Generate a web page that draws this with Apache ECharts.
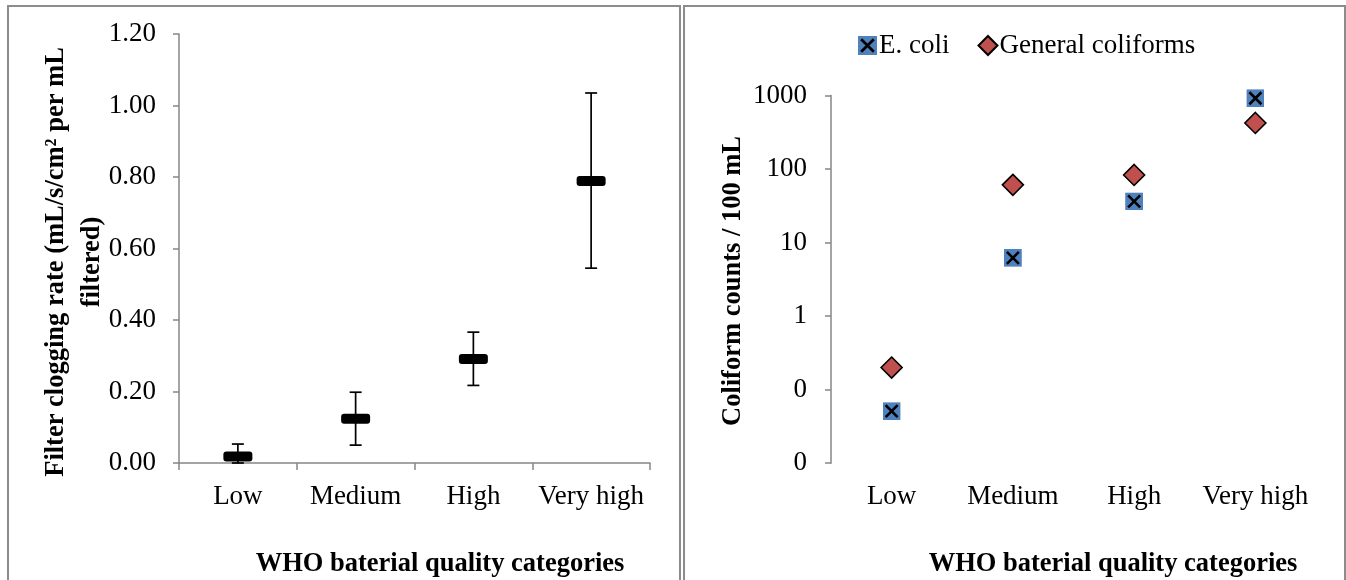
<!DOCTYPE html>
<html>
<head>
<meta charset="utf-8">
<script src="https://cdn.jsdelivr.net/npm/echarts@6/dist/echarts.min.js"></script>
<style>
  html, body { margin: 0; padding: 0; background: #fff; }
  #wrap { position: relative; width: 1346px; height: 580px; overflow: hidden; }
  #chart { position: absolute; left: 0; top: 0; width: 1346px; height: 580px; }
  .box { position: absolute; top: 5px; height: 700px; border: 2px solid #8c8c8c; border-bottom: none; box-sizing: border-box; }
</style>
</head>
<body>
<div id="wrap">
  <div class="box" style="left:7px;width:674px;"></div>
  <div class="box" style="left:683px;width:663px;"></div>
  <div id="chart"></div>
</div>
<script>
// ---- data ----
const categories = ['Low', 'Medium', 'High', 'Very high'];
// left panel: filter clogging rate
const clogMean = [0.018, 0.124, 0.291, 0.789];
const clogLow  = [0.000, 0.050, 0.217, 0.545];
const clogHigh = [0.053, 0.198, 0.366, 1.035];
// right panel: coliform counts / 100 mL
const ecoli = [0.051, 6.2, 36.3, 918];
const generalColiforms = [0.20, 61, 83, 423];

const leftTitleY = 'Filter clogging rate (mL/s/cm\u00B2 per mL\nfiltered)';
const rightTitleY = 'Coliform counts / 100 mL';
const titleX = 'WHO baterial quality categories';

const FONT = '"Liberation Serif", "Times New Roman", serif';
const AXIS = '#868686';

const ecoliIcon = 'image://data:image/svg+xml;charset=utf-8,' + encodeURIComponent(
  "<svg xmlns='http://www.w3.org/2000/svg' width='36' height='36' viewBox='0 0 18 18'>" +
  "<rect x='0' y='0' width='18' height='18' fill='#4F81BD'/>" +
  "<path d='M3,3 L15,15 M15,3 L3,15' stroke='#000' stroke-width='2.6'/></svg>");

const errData = categories.map((c, i) => [i, clogMean[i], clogLow[i], clogHigh[i]]);

const chart = echarts.init(document.getElementById('chart'), null, { renderer: 'canvas' });

const labelStyle = { fontFamily: FONT, fontSize: 27, color: '#000' };

chart.setOption({
  animation: false,
  textStyle: { fontFamily: FONT },
  grid: [
    { left: 179, top: 34, width: 471, height: 429 },
    { left: 831, top: 95.5, width: 485, height: 367.7 }
  ],
  xAxis: [
    {
      gridIndex: 0, type: 'category', data: categories, boundaryGap: true,
      axisLine: { lineStyle: { color: AXIS, width: 1.5 } },
      axisTick: { show: true, alignWithLabel: false, length: 7, lineStyle: { color: AXIS, width: 1.5 } },
      axisLabel: Object.assign({ margin: 20, interval: 0 }, labelStyle),
      splitLine: { show: false }
    },
    {
      gridIndex: 1, type: 'category', data: categories, boundaryGap: true,
      axisLine: { show: false },
      axisTick: { show: false },
      axisLabel: Object.assign({ margin: 20, interval: 0 }, labelStyle),
      splitLine: { show: false }
    }
  ],
  yAxis: [
    {
      gridIndex: 0, type: 'value', min: 0, max: 1.2, interval: 0.2,
      axisLine: { show: true, lineStyle: { color: AXIS, width: 1.5 } },
      axisTick: { show: true, length: 6, lineStyle: { color: AXIS, width: 1.5 } },
      axisLabel: Object.assign({ margin: 23, formatter: v => v.toFixed(2) }, labelStyle),
      splitLine: { show: false }
    },
    {
      gridIndex: 1, type: 'log', logBase: 10, min: 0.01, max: 1000, splitNumber: 5,
      axisLine: { show: true, lineStyle: { color: AXIS, width: 1.5 } },
      axisTick: { show: true, length: 6, lineStyle: { color: AXIS, width: 1.5 } },
      axisLabel: Object.assign({ margin: 24, formatter: v => (v < 1 ? '0' : String(Math.round(v))) }, labelStyle),
      splitLine: { show: false },
      minorTick: { show: false }
    }
  ],
  legend: {
    left: 853, top: 27, itemGap: 28, itemWidth: 19, itemHeight: 19,
    textStyle: { fontFamily: FONT, fontSize: 27, color: '#000', padding: [0, 0, 0, -3] },
    data: [
      { name: 'E. coli', icon: ecoliIcon },
      { name: 'General coliforms', icon: 'diamond' }
    ]
  },
  graphic: [
    { type: 'text', x: 74, y: 262, rotation: Math.PI / 2,
      style: { text: leftTitleY, font: 'bold 26.5px ' + FONT, fill: '#000', align: 'center', verticalAlign: 'middle', lineHeight: 36 } },
    { type: 'text', x: 733, y: 281, rotation: Math.PI / 2,
      style: { text: rightTitleY, font: 'bold 26.5px ' + FONT, fill: '#000', align: 'center', verticalAlign: 'middle' } },
    { type: 'text', x: 440, y: 564,
      style: { text: titleX, font: 'bold 26.5px ' + FONT, fill: '#000', align: 'center', verticalAlign: 'middle' } },
    { type: 'text', x: 1113, y: 564,
      style: { text: titleX, font: 'bold 26.5px ' + FONT, fill: '#000', align: 'center', verticalAlign: 'middle' } }
  ],
  series: [
    {
      name: 'Clogging rate', type: 'custom', xAxisIndex: 0, yAxisIndex: 0,
      data: errData,
      encode: { x: 0, y: [1, 2, 3] },
      renderItem: function (params, api) {
        const c = api.coord([api.value(0), api.value(1)]);
        const lo = api.coord([api.value(0), api.value(2)]);
        const hi = api.coord([api.value(0), api.value(3)]);
        const ls = { stroke: '#000', lineWidth: 1.7 };
        return {
          type: 'group',
          children: [
            { type: 'line', shape: { x1: c[0], y1: lo[1], x2: c[0], y2: hi[1] }, style: ls },
            { type: 'line', shape: { x1: c[0] - 6, y1: hi[1], x2: c[0] + 6, y2: hi[1] }, style: ls },
            { type: 'line', shape: { x1: c[0] - 6, y1: lo[1], x2: c[0] + 6, y2: lo[1] }, style: ls },
            { type: 'rect', shape: { x: c[0] - 14.5, y: c[1] - 5, width: 29, height: 10, r: 3 }, style: { fill: '#000' } }
          ]
        };
      }
    },
    {
      name: 'General coliforms', type: 'scatter', xAxisIndex: 1, yAxisIndex: 1,
      data: generalColiforms,
      symbol: 'diamond', symbolSize: [21, 21],
      itemStyle: { color: '#C0504D', borderColor: '#000', borderWidth: 1.6, opacity: 1 }
    },
    {
      name: 'E. coli', type: 'scatter', xAxisIndex: 1, yAxisIndex: 1,
      data: ecoli,
      symbol: ecoliIcon, symbolSize: 18,
      itemStyle: { opacity: 1 }
    }
  ]
});
</script>
</body>
</html>
